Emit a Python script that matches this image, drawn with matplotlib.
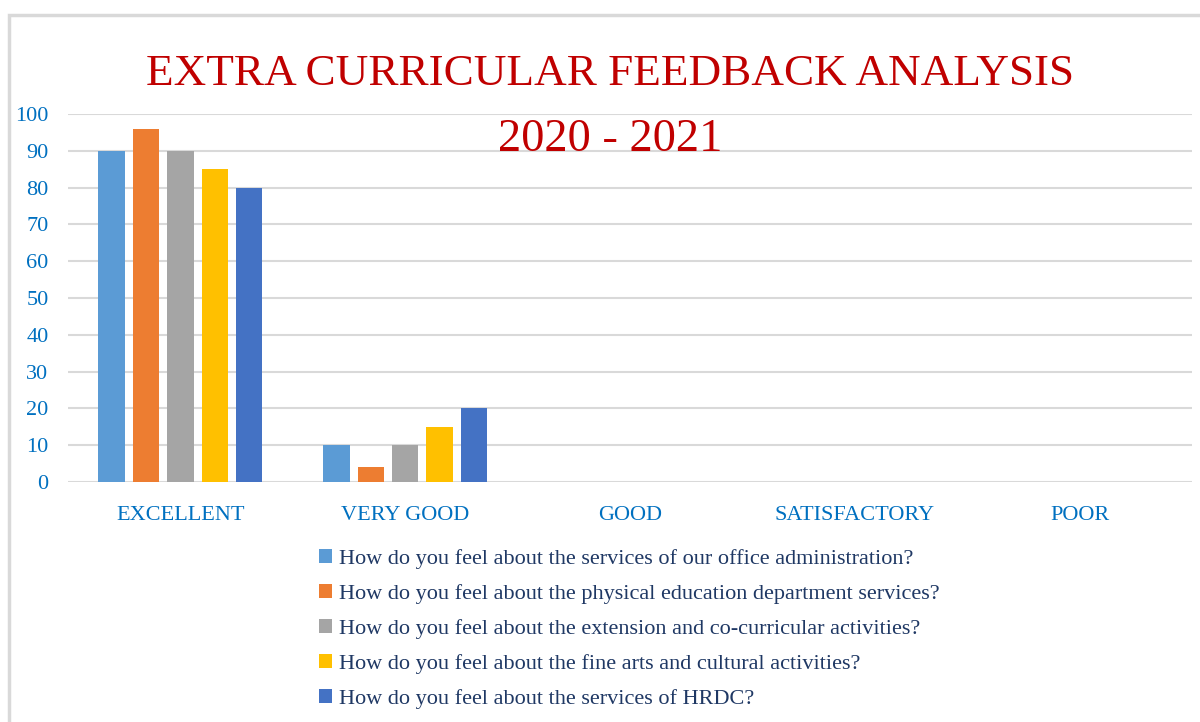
import numpy as np
import matplotlib
matplotlib.use("Agg")
from matplotlib import pyplot as plt
from matplotlib.patches import Patch, Rectangle

categories = ["EXCELLENT", "VERY GOOD", "GOOD", "SATISFACTORY", "POOR"]
series_names = [
    "How do you feel about the services of our office administration?",
    "How do you feel about the physical education department services?",
    "How do you feel about the extension and co-curricular activities?",
    "How do you feel about the fine arts and cultural activities?",
    "How do you feel about the services of HRDC?",
]
office_admin = [90, 10, 0, 0, 0]
physical_edu = [96, 4, 0, 0, 0]
extension = [90, 10, 0, 0, 0]
fine_arts = [85, 15, 0, 0, 0]
hrdc = [80, 20, 0, 0, 0]
yticks = [0, 10, 20, 30, 40, 50, 60, 70, 80, 90, 100]

colors = ["#5B9BD5", "#ED7D31", "#A5A5A5", "#FFC000", "#4472C4"]
values = [office_admin, physical_edu, extension, fine_arts, hrdc]

plt.rcParams['font.family'] = ['Liberation Serif', 'DejaVu Serif']

fig = plt.figure(figsize=(12, 7.22), dpi=100)
ax = fig.add_axes([68 / 1200, 1 - 482 / 722, (1192 - 68) / 1200, (482 - 114) / 722])

x = np.arange(len(categories))
step = 0.153
for i, (vals, c) in enumerate(zip(values, colors)):
    ax.bar(x + (i - 2) * step, vals, width=0.118, color=c, zorder=3)

ax.set_xlim(-0.5, len(categories) - 0.5)
ax.set_ylim(0, 100)
ax.set_yticks(yticks)
ax.set_xticks(x)
ax.set_xticklabels(categories)
ax.grid(axis="y", color="#D9D9D9", linewidth=1.5, zorder=0)
for s in ax.spines.values():
    s.set_visible(False)
ax.tick_params(axis="both", length=0, colors="#0070C0", labelsize=16)
ax.tick_params(axis="x", pad=17)
ax.tick_params(axis="y", pad=14)

fig.text(610 / 1200, 1 - 74 / 722, "EXTRA CURRICULAR FEEDBACK ANALYSIS",
         ha="center", va="center", color="#C00000", fontsize=32.5)
fig.text(610 / 1200, 1 - 140 / 722, "2020 - 2021",
         ha="center", va="center", color="#C00000", fontsize=33.5)

handles = [Patch(facecolor=c, edgecolor="none") for c in colors]
leg = fig.legend(handles, series_names, loc="upper left",
                 bbox_to_anchor=(310 / 1200, 1 - 540 / 722), frameon=False,
                 fontsize=16, handlelength=0.6, handleheight=0.6,
                 handletextpad=0.3, labelspacing=0.68, borderaxespad=0)
for t in leg.get_texts():
    t.set_color("#1F3864")

fig.patches.append(Rectangle((9, -10), 1300, 722 - 15 + 10, transform=None,
                             fill=False, edgecolor="#D9D9D9", linewidth=2.5))

fig.savefig("out.png", dpi=100, facecolor="white")
